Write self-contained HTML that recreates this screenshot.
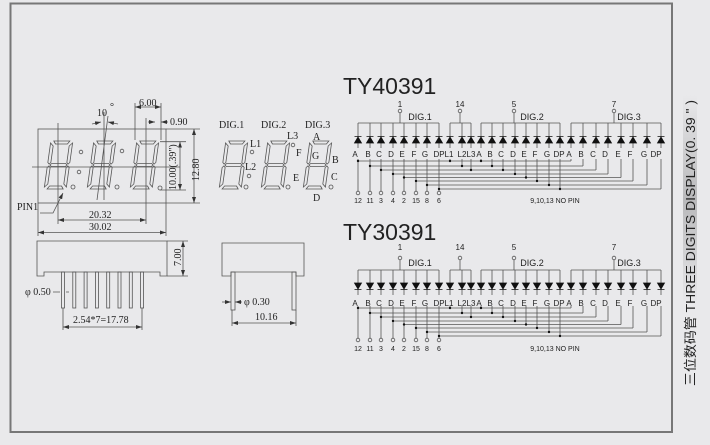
<!DOCTYPE html>
<html><head><meta charset="utf-8"><style>
html,body{margin:0;padding:0;background:#e9e9eb;}
svg{display:block}
.l{fill:none;stroke:#555;stroke-width:0.8}
.t{font-family:"Liberation Sans",sans-serif;fill:#222}
.s{font-family:"Liberation Serif",serif;fill:#222;font-size:10px}
</style></head><body>
<svg width="710" height="445" viewBox="0 0 710 445" xmlns="http://www.w3.org/2000/svg">
<defs>
<path id="du" d="M-3.5,6L0,0L3.5,6Z M-3.5,-0.5H3.5" fill="#111" stroke="#111" stroke-width="0.8"/>
<path id="dd" d="M-3.5,0L0,6L3.5,0Z M-3.5,6.5H3.5" fill="#111" stroke="#111" stroke-width="0.8"/>
<g id="dig" fill="none" stroke="#555" stroke-width="0.8" transform="skewX(-8)">
<polygon points="4,1 20,1 18,4 6,4"/>
<polygon points="6,46 18,46 20,49 4,49"/>
<polygon points="5,23.5 19,23.5 20.5,25 19,26.5 5,26.5 3.5,25"/>
<polygon points="1,3 4,6 4,22.5 2.5,24 1,22.5"/>
<polygon points="23,3 20,6 20,22.5 21.5,24 23,22.5"/>
<polygon points="1,27.5 2.5,26 4,27.5 4,44 1,47"/>
<polygon points="23,27.5 21.5,26 20,27.5 20,44 23,47"/>
</g>
<marker id="ar" markerWidth="6" markerHeight="4" refX="6" refY="2" orient="auto-start-reverse" markerUnits="userSpaceOnUse"><path d="M0,0L6,2L0,4Z" fill="#333"/></marker>
<linearGradient id="gb" x1="0" y1="0" x2="0" y2="1"><stop offset="0" stop-color="#e9e9eb"/><stop offset="0.5" stop-color="#b8b8ba"/><stop offset="1" stop-color="#e9e9eb"/></linearGradient>
<g id="sl" class="l">
<path d="M358,123H439 M450,123H471 M481,123H560 M571,123H661 M400,113V123 M460,113V123 M514,113V123 M614,113V123"/>
<path d="M358,123V148M358,159V191 M370,123V148M370,159V191 M381,123V148M381,159V191 M393,123V148M393,159V191 M404,123V148M404,159V191 M416,123V148M416,159V191 M427,123V148M427,159V191 M439,123V148M439,159V191"/>
<path d="M450,123V148M450,159V161 M462,123V148M462,159V166 M471,123V148M471,159V170"/>
<path d="M481,123V148M481,159V161 M492,123V148M492,159V166 M503,123V148M503,159V170 M515,123V148M515,159V174 M526,123V148M526,159V177.5 M537,123V148M537,159V181 M549,123V148M549,159V185 M560,123V148M560,159V189"/>
<path d="M571,123V148M571,159V161 M583,123V148M583,159V166 M596,123V148M596,159V170 M608,123V148M608,159V174 M621,123V148M621,159V177.5 M633,123V148M633,159V181 M647,123V148M647,159V185 M661,123V148M661,159V189"/>
<path d="M358,161H571 M370,166H583 M381,170H596 M393,174H608 M404,177.5H621 M416,181H633 M427,185H647 M439,189H661"/>
<g fill="#e9e9eb"><circle cx="400" cy="111" r="1.8"/><circle cx="460" cy="111" r="1.8"/><circle cx="514" cy="111" r="1.8"/><circle cx="614" cy="111" r="1.8"/>
<circle cx="358" cy="193" r="1.8"/><circle cx="370" cy="193" r="1.8"/><circle cx="381" cy="193" r="1.8"/><circle cx="393" cy="193" r="1.8"/><circle cx="404" cy="193" r="1.8"/><circle cx="416" cy="193" r="1.8"/><circle cx="427" cy="193" r="1.8"/><circle cx="439" cy="193" r="1.8"/></g>
<g fill="#111" stroke="none"><circle cx="358" cy="161" r="1.2"/><circle cx="450" cy="161" r="1.2"/><circle cx="481" cy="161" r="1.2"/><circle cx="370" cy="166" r="1.2"/><circle cx="462" cy="166" r="1.2"/><circle cx="492" cy="166" r="1.2"/><circle cx="381" cy="170" r="1.2"/><circle cx="471" cy="170" r="1.2"/><circle cx="503" cy="170" r="1.2"/><circle cx="393" cy="174" r="1.2"/><circle cx="515" cy="174" r="1.2"/><circle cx="404" cy="177.5" r="1.2"/><circle cx="526" cy="177.5" r="1.2"/><circle cx="416" cy="181" r="1.2"/><circle cx="537" cy="181" r="1.2"/><circle cx="427" cy="185" r="1.2"/><circle cx="549" cy="185" r="1.2"/><circle cx="439" cy="189" r="1.2"/><circle cx="560" cy="189" r="1.2"/></g>
</g>
</defs>

<rect x="10.5" y="3.5" width="661.5" height="428.5" fill="none" stroke="#777" stroke-width="2"/>
<rect x="683" y="95" width="14" height="210" fill="url(#gb)"/>
<text class="t" font-family="Liberation Sans,Noto Sans CJK SC,sans-serif" font-size="13" transform="translate(695,386) rotate(-90)" textLength="286" lengthAdjust="spacingAndGlyphs" style="font-family:'Liberation Sans','Noto Sans CJK SC',sans-serif">三位数码管 THREE DIGITS DISPLAY(0. 39 " )</text>

<!-- Schematic 1 -->
<text class="t" x="343" y="94" font-size="23">TY40391</text>
<use href="#sl"/>
<g>
<use href="#du" x="358" y="137"/><use href="#du" x="370" y="137"/><use href="#du" x="381" y="137"/><use href="#du" x="393" y="137"/><use href="#du" x="404" y="137"/><use href="#du" x="416" y="137"/><use href="#du" x="427" y="137"/><use href="#du" x="439" y="137"/><use href="#du" x="450" y="137"/><use href="#du" x="462" y="137"/><use href="#du" x="471" y="137"/><use href="#du" x="481" y="137"/><use href="#du" x="492" y="137"/><use href="#du" x="503" y="137"/><use href="#du" x="515" y="137"/><use href="#du" x="526" y="137"/><use href="#du" x="537" y="137"/><use href="#du" x="549" y="137"/><use href="#du" x="560" y="137"/><use href="#du" x="571" y="137"/><use href="#du" x="583" y="137"/><use href="#du" x="596" y="137"/><use href="#du" x="608" y="137"/><use href="#du" x="621" y="137"/><use href="#du" x="633" y="137"/><use href="#du" x="647" y="137"/><use href="#du" x="661" y="137"/>
</g>
<g class="t" font-size="8" text-anchor="middle">
<text x="400" y="107">1</text><text x="460" y="107">14</text><text x="514" y="107">5</text><text x="614" y="107">7</text>
<text x="420" y="120" font-size="9">DIG.1</text><text x="532" y="120" font-size="9">DIG.2</text><text x="629" y="120" font-size="9">DIG.3</text>
<text x="355" y="157">A</text><text x="368" y="157">B</text><text x="379" y="157">C</text><text x="391" y="157">D</text><text x="402" y="157">E</text><text x="414" y="157">F</text><text x="425" y="157">G</text><text x="439" y="157">DP</text><text x="449" y="157">L1</text><text x="462" y="157">L2</text><text x="471" y="157">L3</text><text x="479" y="157">A</text><text x="490" y="157">B</text><text x="501" y="157">C</text><text x="513" y="157">D</text><text x="524" y="157">E</text><text x="535" y="157">F</text><text x="547" y="157">G</text><text x="559" y="157">DP</text><text x="569" y="157">A</text><text x="581" y="157">B</text><text x="593" y="157">C</text><text x="605" y="157">D</text><text x="618" y="157">E</text><text x="630" y="157">F</text><text x="644" y="157">G</text><text x="656" y="157">DP</text>
<text x="358" y="203" font-size="7">12</text><text x="370" y="203" font-size="7">11</text><text x="381" y="203" font-size="7">3</text><text x="393" y="203" font-size="7">4</text><text x="404" y="203" font-size="7">2</text><text x="416" y="203" font-size="7">15</text><text x="427" y="203" font-size="7">8</text><text x="439" y="203" font-size="7">6</text>
<text x="555" y="203" font-size="7">9,10,13 NO PIN</text>
</g>

<!-- Schematic 2 -->
<text class="t" x="343" y="240" font-size="23">TY30391</text>
<use href="#sl" transform="translate(0,147)"/>
<g transform="translate(0,147)">
<use href="#dd" x="358" y="136"/><use href="#dd" x="370" y="136"/><use href="#dd" x="381" y="136"/><use href="#dd" x="393" y="136"/><use href="#dd" x="404" y="136"/><use href="#dd" x="416" y="136"/><use href="#dd" x="427" y="136"/><use href="#dd" x="439" y="136"/><use href="#dd" x="450" y="136"/><use href="#dd" x="462" y="136"/><use href="#dd" x="471" y="136"/><use href="#dd" x="481" y="136"/><use href="#dd" x="492" y="136"/><use href="#dd" x="503" y="136"/><use href="#dd" x="515" y="136"/><use href="#dd" x="526" y="136"/><use href="#dd" x="537" y="136"/><use href="#dd" x="549" y="136"/><use href="#dd" x="560" y="136"/><use href="#dd" x="571" y="136"/><use href="#dd" x="583" y="136"/><use href="#dd" x="596" y="136"/><use href="#dd" x="608" y="136"/><use href="#dd" x="621" y="136"/><use href="#dd" x="633" y="136"/><use href="#dd" x="647" y="136"/><use href="#dd" x="661" y="136"/>
</g>
<g class="t" font-size="8" text-anchor="middle">
<text x="400" y="250">1</text><text x="460" y="250">14</text><text x="514" y="250">5</text><text x="614" y="250">7</text>
<text x="420" y="266" font-size="9">DIG.1</text><text x="532" y="266" font-size="9">DIG.2</text><text x="629" y="266" font-size="9">DIG.3</text>
<text x="355" y="306">A</text><text x="368" y="306">B</text><text x="379" y="306">C</text><text x="391" y="306">D</text><text x="402" y="306">E</text><text x="414" y="306">F</text><text x="425" y="306">G</text><text x="439" y="306">DP</text><text x="449" y="306">L1</text><text x="462" y="306">L2</text><text x="471" y="306">L3</text><text x="479" y="306">A</text><text x="490" y="306">B</text><text x="501" y="306">C</text><text x="513" y="306">D</text><text x="524" y="306">E</text><text x="535" y="306">F</text><text x="547" y="306">G</text><text x="559" y="306">DP</text><text x="569" y="306">A</text><text x="581" y="306">B</text><text x="593" y="306">C</text><text x="605" y="306">D</text><text x="618" y="306">E</text><text x="630" y="306">F</text><text x="644" y="306">G</text><text x="656" y="306">DP</text>
<text x="358" y="351" font-size="7">12</text><text x="370" y="351" font-size="7">11</text><text x="381" y="351" font-size="7">3</text><text x="393" y="351" font-size="7">4</text><text x="404" y="351" font-size="7">2</text><text x="416" y="351" font-size="7">15</text><text x="427" y="351" font-size="7">8</text><text x="439" y="351" font-size="7">6</text>
<text x="555" y="351" font-size="7">9,10,13 NO PIN</text>
</g>

<!-- Front view -->
<g class="l">
<rect x="38" y="129" width="128" height="74"/>
<path d="M32,167H180 M166,129H200 M166,203H200 M160,141.7H186 M160,190H186 M58,123V224 M146,118V224 M135,103V140 M161,103V140 M38,203V236 M166,203V236 M104,112V200 M108,116L97,200"/>
<path d="M194,129V203" marker-start="url(#ar)" marker-end="url(#ar)"/>
<path d="M180,141.7V190" marker-start="url(#ar)" marker-end="url(#ar)"/>
<path d="M58,220H146" marker-start="url(#ar)" marker-end="url(#ar)"/>
<path d="M38,232.5H166" marker-start="url(#ar)" marker-end="url(#ar)"/>
<path d="M135,107H161" marker-start="url(#ar)" marker-end="url(#ar)"/>
<path d="M148,122H155" marker-end="url(#ar)"/><path d="M168,122H161" marker-end="url(#ar)"/>
<path d="M92,124L101,122" marker-end="url(#ar)"/><path d="M118,124L108,122" marker-end="url(#ar)"/>
<path d="M40,213H53L63,193" marker-end="url(#ar)"/>
<circle cx="73" cy="187" r="2"/><circle cx="81" cy="152" r="1.8"/><circle cx="79" cy="172" r="1.8"/><circle cx="117" cy="187" r="2"/><circle cx="122" cy="151" r="1.8"/><circle cx="160" cy="188" r="2"/>
</g>
<use href="#dig" transform="translate(50,140)"/>
<use href="#dig" transform="translate(93,140)"/>
<use href="#dig" transform="translate(136,140)"/>
<text class="s" x="97" y="116">10</text><text class="s" x="110" y="110" font-size="6">°</text>
<text class="s" x="139" y="106">6.00</text>
<text class="s" x="170" y="125">0.90</text>
<text class="s" x="89" y="218">20.32</text>
<text class="s" x="89" y="230">30.02</text>
<text class="s" x="17" y="210" font-size="7">PIN1</text>
<text class="s" transform="translate(199,181) rotate(-90)">12.80</text>
<text class="s" font-size="8" transform="translate(176,190) rotate(-90)">10.00(.39")</text>

<!-- side view left -->
<g class="l">
<path d="M37,241H167V276H160V272H44V276H37Z"/>
<rect x="61.5" y="272" width="3" height="36"/><rect x="72.8" y="272" width="3" height="36"/><rect x="84.1" y="272" width="3" height="36"/><rect x="95.4" y="272" width="3" height="36"/><rect x="106.7" y="272" width="3" height="36"/><rect x="118" y="272" width="3" height="36"/><rect x="129.3" y="272" width="3" height="36"/><rect x="140.6" y="272" width="3" height="36"/>
<path d="M167,241H188 M167,276H188 M63,308V330 M142,308V330"/>
<path d="M183,241V276" marker-start="url(#ar)" marker-end="url(#ar)"/>
<path d="M63,327H142" marker-start="url(#ar)" marker-end="url(#ar)"/>
<path d="M53,292H60 M66,292H69"/>
</g>
<text class="s" transform="translate(181,266) rotate(-90)">7.00</text>
<text class="s" x="25" y="295">φ 0.50</text>
<text class="s" x="73" y="323">2.54*7=17.78</text>

<!-- side view right -->
<g class="l">
<path d="M222,243H304V276H296V272H231V276H222Z"/>
<rect x="231" y="272" width="4" height="38"/><rect x="292" y="272" width="4" height="38"/>
<path d="M232,310V326 M296,310V326"/>
<path d="M222,302H231" marker-end="url(#ar)"/><path d="M242,302H235" marker-end="url(#ar)"/>
<path d="M232,323H296" marker-start="url(#ar)" marker-end="url(#ar)"/>
</g>
<text class="s" x="244" y="305">φ 0.30</text>
<text class="s" x="255" y="320">10.16</text>

<!-- top view right -->
<use href="#dig" transform="translate(225,140)"/>
<use href="#dig" transform="translate(267,140)"/>
<use href="#dig" transform="translate(309,140)"/>
<g class="l"><circle cx="252" cy="152" r="1.8"/><circle cx="249" cy="176" r="1.8"/><circle cx="246" cy="187" r="2"/><circle cx="293" cy="145" r="1.8"/><circle cx="288" cy="187" r="2"/><circle cx="331" cy="187" r="2"/></g>
<g class="s" font-size="9">
<text x="219" y="128">DIG.1</text><text x="261" y="128">DIG.2</text><text x="305" y="128">DIG.3</text>
</g>
<g class="s" font-size="7">
<text x="250" y="147">L1</text><text x="245" y="170">L2</text><text x="287" y="139">L3</text>
<text x="313" y="140">A</text><text x="296" y="156">F</text><text x="312" y="159">G</text><text x="332" y="163">B</text><text x="293" y="181">E</text><text x="331" y="180">C</text><text x="313" y="201">D</text>
</g>
</svg>
</body></html>
